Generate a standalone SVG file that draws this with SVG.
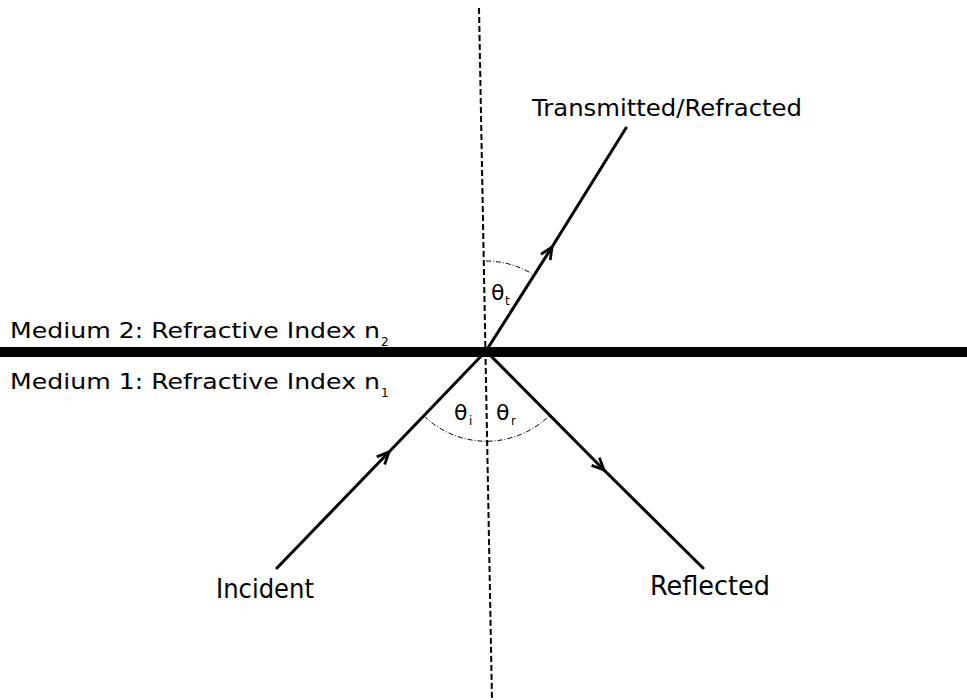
<svg xmlns="http://www.w3.org/2000/svg" width="967" height="700" viewBox="0 0 967 700">
<style>
  .lbl { font-family: "DejaVu Sans", "Liberation Sans", sans-serif; font-size: 21px; fill: #000; }
  .big { font-size: 26px; }
  .mid { font-size: 23px; }
  .sub { font-family: "DejaVu Sans", "Liberation Sans", sans-serif; font-size: 12px; fill: #000; }
  .th { font-family: "DejaVu Sans", "Liberation Sans", sans-serif; font-size: 22px; fill: #000; }
  .ray { stroke: #000; stroke-width: 3; fill: none; stroke-linecap: round; marker-mid: url(#chev); }
  .arc { stroke: #000; stroke-width: 1; fill: none; stroke-dasharray: 5 2 1 2; }
</style>
<defs>
  <marker id="chev" viewBox="0 0 14 14" refX="13" refY="7" markerWidth="14" markerHeight="14" markerUnits="userSpaceOnUse" orient="auto">
    <path d="M1,1.5 L13,7 L1,12.5" fill="none" stroke="#000" stroke-width="2.8" stroke-linejoin="miter"/>
  </marker>
</defs>
<rect width="967" height="700" fill="#fff"/>

<g id="interface">
  <rect x="0" y="347" width="967" height="10" fill="#000"/>
</g>

<g id="normal">
  <line x1="479" y1="8" x2="492" y2="700" stroke="#000" stroke-width="2" stroke-dasharray="6 3"/>
</g>

<g id="connectors">
  <path id="incident-ray" class="ray" d="M277,568 L389,452 L486,351"/>
  <path id="reflected-ray" class="ray" d="M486,351 L604,470 L703,568"/>
  <path id="transmitted-ray" class="ray" d="M486,351 L552,247 L626,128"/>
</g>

<g id="angles">
  <path class="arc" d="M486,261 A90,90 0 0 1 534,275"/>
  <path class="arc" d="M424,416 A90,90 0 0 0 550,415"/>
</g>

<g id="theta-t">
  <text class="th" x="491" y="300">θ</text><text class="sub" x="505" y="305">t</text>
</g>
<g id="theta-i">
  <text class="th" x="454" y="420">θ</text><text class="sub" x="469" y="425">i</text>
</g>
<g id="theta-r">
  <text class="th" x="496" y="420">θ</text><text class="sub" x="511" y="425">r</text>
</g>

<g id="label-medium2">
  <text class="lbl" x="10" y="338" textLength="370" lengthAdjust="spacingAndGlyphs">Medium 2: Refractive Index n</text><text class="sub" x="381" y="346">2</text>
</g>
<g id="label-medium1">
  <text class="lbl" x="10" y="389" textLength="370" lengthAdjust="spacingAndGlyphs">Medium 1: Refractive Index n</text><text class="sub" x="381" y="397">1</text>
</g>
<g id="label-transmitted">
  <text class="lbl mid" x="532" y="116" textLength="270" lengthAdjust="spacingAndGlyphs">Transmitted/Refracted</text>
</g>
<g id="label-incident">
  <text class="lbl big" x="216" y="598" textLength="98" lengthAdjust="spacingAndGlyphs">Incident</text>
</g>
<g id="label-reflected">
  <text class="lbl big" x="650" y="595" textLength="120" lengthAdjust="spacingAndGlyphs">Reflected</text>
</g>
</svg>
